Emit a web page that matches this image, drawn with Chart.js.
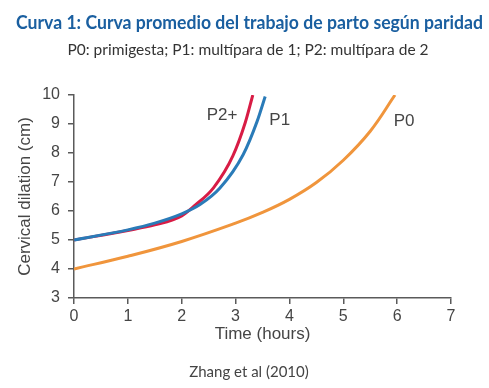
<!DOCTYPE html>
<html>
<head>
<meta charset="utf-8">
<script src="https://cdn.jsdelivr.net/npm/chart.js@4.4.1/dist/chart.umd.min.js"></script>
<style>
  html, body { margin: 0; padding: 0; background: #fff; }
  #wrap { width: 489px; height: 388px; }
</style>
</head>
<body>
<div id="wrap"><canvas id="laborChart"></canvas></div>
<script>
// Zhang et al (2010) labor curves
const p0Hours = [0, 1, 2, 3, 3.5, 4, 4.5, 5, 5.5, 5.96];
const p0Dilation = [4.0, 4.44, 4.95, 5.58, 5.95, 6.4, 6.98, 7.75, 8.75, 10.0];

const p1Hours = [0, 1, 1.5, 2, 2.34, 2.71, 3.14, 3.4, 3.55];
const p1Dilation = [5.0, 5.35, 5.58, 5.9, 6.22, 6.79, 7.94, 9.09, 9.95];

const p2Hours = [0, 1, 1.5, 2, 2.25, 2.59, 2.95, 3.18, 3.32];
const p2Dilation = [5.0, 5.33, 5.52, 5.83, 6.2, 6.8, 7.9, 9.05, 10.0];

const xTicks = [0, 1, 2, 3, 4, 5, 6, 7];
const yTicks = [3, 4, 5, 6, 7, 8, 9, 10];

// curve names placed next to the end of each curve (in hours / cm)
const curveNames = ['P2+', 'P1', 'P0'];
const nameHours = [2.75, 3.82, 6.13];
const nameDilation = [9.31, 9.14, 9.1];

const titleText = 'Curva 1: Curva promedio del trabajo de parto según paridad';
const subtitleText = 'P0: primigesta; P1: multípara de 1; P2: multípara de 2';
const sourceText = 'Zhang et al (2010)';

function toPoints(xs, ys) {
    return xs.map((x, i) => ({ x: x, y: ys[i] }));
}

const axisColor = '#5a5a5a';
const textColor = '#454545';
const arial = '"Liberation Sans", Arial, sans-serif';

const extraText = {
    id: 'extraText',
    afterDraw(chart) {
        const ctx = chart.ctx;
        const xs = chart.scales.x;
        const ys = chart.scales.y;
        ctx.save();
        ctx.textAlign = 'center';
        ctx.textBaseline = 'middle';

        ctx.fillStyle = textColor;
        ctx.font = '17px ' + arial;
        curveNames.forEach((name, i) => {
            ctx.fillText(name, xs.getPixelForValue(nameHours[i]), ys.getPixelForValue(nameDilation[i]));
        });

        // heading, subheading and source note
        ctx.fillStyle = '#1a5fa0';
        ctx.font = 'bold 18px Lato, sans-serif';
        ctx.fillText(titleText, 249.5, 23, 467);

        ctx.fillStyle = '#333';
        ctx.font = '15.5px Lato, sans-serif';
        ctx.fillText(subtitleText, 248, 50);

        ctx.fillStyle = '#444';
        ctx.font = '15px Lato, sans-serif';
        ctx.fillText(sourceText, 249, 372);
        ctx.restore();
    }
};

const ctx = document.getElementById('laborChart');

new Chart(ctx, {
    type: 'line',
    data: {
        datasets: [
            {
                label: 'P0',
                data: toPoints(p0Hours, p0Dilation),
                borderColor: '#f0953c',
                borderWidth: 3,
                pointRadius: 0,
                tension: 0.4
            },
            {
                label: 'P1',
                data: toPoints(p1Hours, p1Dilation),
                borderColor: '#2a7bb8',
                borderWidth: 3,
                pointRadius: 0,
                cubicInterpolationMode: 'monotone'
            },
            {
                label: 'P2+',
                data: toPoints(p2Hours, p2Dilation),
                borderColor: '#d81c45',
                borderWidth: 3,
                pointRadius: 0,
                cubicInterpolationMode: 'monotone'
            }
        ]
    },
    options: {
        responsive: true,
        maintainAspectRatio: false,
        animation: false,
        layout: {
            padding: { left: 15, right: 38, top: 95, bottom: 40 }
        },
        scales: {
            x: {
                type: 'linear',
                min: 0,
                max: 7,
                afterFit(scale) { scale.height = 50; },
                afterBuildTicks(scale) { scale.ticks = xTicks.map(v => ({ value: v })); },
                grid: { drawOnChartArea: false, tickLength: 6, color: axisColor, lineWidth: 1.5 },
                border: { color: axisColor, width: 1.5 },
                ticks: {
                    color: textColor,
                    padding: 3,
                    font: { family: arial, size: 16 }
                },
                title: {
                    display: true,
                    text: 'Time (hours)',
                    color: textColor,
                    padding: { top: 0, bottom: 3 },
                    font: { family: arial, size: 17 }
                }
            },
            y: {
                min: 3,
                max: 10,
                afterFit(scale) { scale.width = 59; },
                afterBuildTicks(scale) { scale.ticks = yTicks.map(v => ({ value: v })); },
                grid: { drawOnChartArea: false, tickLength: 6, color: axisColor, lineWidth: 1.5 },
                border: { color: axisColor, width: 1.5 },
                ticks: {
                    color: textColor,
                    padding: 8,
                    font: { family: arial, size: 16 }
                },
                title: {
                    display: true,
                    text: 'Cervical dilation (cm)',
                    color: textColor,
                    padding: { top: 0, bottom: 0 },
                    font: { family: arial, size: 17 }
                }
            }
        },
        plugins: {
            legend: { display: false },
            tooltip: { enabled: false },
            title: { display: false }
        }
    },
    plugins: [extraText]
});
</script>
</body>
</html>
